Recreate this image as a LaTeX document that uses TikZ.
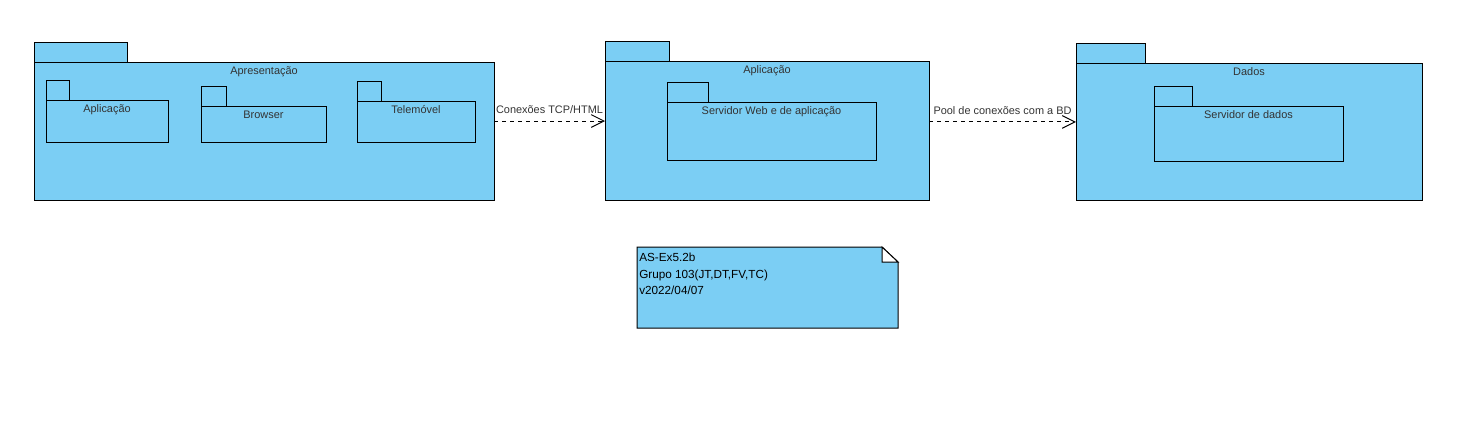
\documentclass[tikz,border=0pt]{standalone}
\usepackage{fontspec}
\setmainfont{Liberation Sans}
\usetikzlibrary{positioning, arrows.meta}
\definecolor{pkgblue}{RGB}{123,206,244}
\tikzset{
pkgsize/.style 2 args={minimum width=#1*0.75pt, minimum height=#2*0.75pt}, % size in screen pixels
pkg/.style={draw, fill=pkgblue, line width=0.75pt, inner sep=0pt, outer sep=0pt, anchor=north west}, % package body
tabbox/.style={pkg, above right=0pt and 0pt of #1}, % small tab on top of a package
pkgname/.style={font=\fontsize{8.2}{10}\selectfont, text=black!80, inner sep=0pt, below=3.2pt of #1}, % name of a package
dep/.style={line width=0.75pt, dash pattern=on 3pt off 3pt, -{Straight Barb[length=9.5pt, width=9.5pt]}}, % dependency
deptext/.style={font=\fontsize{8.2}{10}\selectfont, text=black!80, inner sep=0pt, above=5pt, midway},
}

\begin{document}
\begin{tikzpicture}[x=0.75pt, y=-0.75pt]
            \useasboundingbox (0,0) rectangle (1482,444);
            % outer packages
            \node[pkg, pkgsize={460}{138}] (apres) at (34,62) {};
            \node[pkg, pkgsize={324}{139}] (aplic) at (605,61) {};
            \node[pkg, pkgsize={346}{137}] (dados) at (1076,63) {};
            \node[tabbox=apres.north west, pkgsize={93}{20}] (apresTab) {};
            \node[tabbox=aplic.north west, pkgsize={64}{20}] (aplicTab) {};
            \node[tabbox=dados.north west, pkgsize={69}{20}] (dadosTab) {};
            \node[pkgname=apres.north] (apresName) {Apresentação};
            \node[pkgname=aplic.north] (aplicName) {Aplicação};
            \node[pkgname=dados.north] (dadosName) {Dados};
            % inner packages
            \node[pkg, pkgsize={122}{42}] (apApl) at (46,100) {};
            \node[pkg, pkgsize={125}{36}] (apBrowser) at (201,106) {};
            \node[pkg, pkgsize={118}{41}] (apTele) at (357,101) {};
            \node[pkg, pkgsize={209}{58}] (srvWeb) at (667,102) {};
            \node[pkg, pkgsize={189}{55}] (srvDados) at (1154,106) {};
            \node[tabbox=apApl.north west, pkgsize={23}{20}] (apAplTab) {};
            \node[tabbox=apBrowser.north west, pkgsize={25}{20}] (apBrowserTab) {};
            \node[tabbox=apTele.north west, pkgsize={24}{20}] (apTeleTab) {};
            \node[tabbox=srvWeb.north west, pkgsize={41}{20}] (srvWebTab) {};
            \node[tabbox=srvDados.north west, pkgsize={38}{20}] (srvDadosTab) {};
            \node[pkgname=apApl.north] (apAplName) {Aplicação};
            \node[pkgname=apBrowser.north] (apBrowserName) {Browser};
            \node[pkgname=apTele.north] (apTeleName) {Telemóvel};
            \node[pkgname=srvWeb.north] (srvWebName) {Servidor Web e de aplicação};
            \node[pkgname=srvDados.north] (srvDadosName) {Servidor de dados};
            % dependencies
            \draw[dep] ([yshift=7.5pt]apres.east) -- ([yshift=7.5pt]apres.east -| aplic.west)
                node[deptext] (tcpText) {Conexões TCP/HTML};
            \draw[dep] ([yshift=6.4pt]aplic.east) -- ([yshift=6.4pt]aplic.east -| dados.west)
                node[deptext] (poolText) {Pool de conexões com a BD};
            % note
            \node[pkg, draw=none, fill=none, pkgsize={261}{81}] (note) at (637,247) {};
            \draw[line width=0.75pt, fill=pkgblue] (note.north west) -- ([xshift=-12pt]note.north east)
                -- ([yshift=-11.25pt]note.north east) -- (note.south east) -- (note.south west) -- cycle;
            \draw[line width=0.75pt, fill=white] ([xshift=-12pt]note.north east) -- ([xshift=-12pt, yshift=-11.25pt]note.north east)
                -- ([yshift=-11.25pt]note.north east) -- cycle;
            \node[anchor=north west, align=left, inner xsep=1.5pt, inner ysep=4.3pt,
                font=\fontsize{8.8}{12.4}\selectfont] (noteText) at (note.north west)
                {AS-Ex5.2b\\Grupo 103(JT,DT,FV,TC)\\v2022/04/07};
\end{tikzpicture}
\end{document}
